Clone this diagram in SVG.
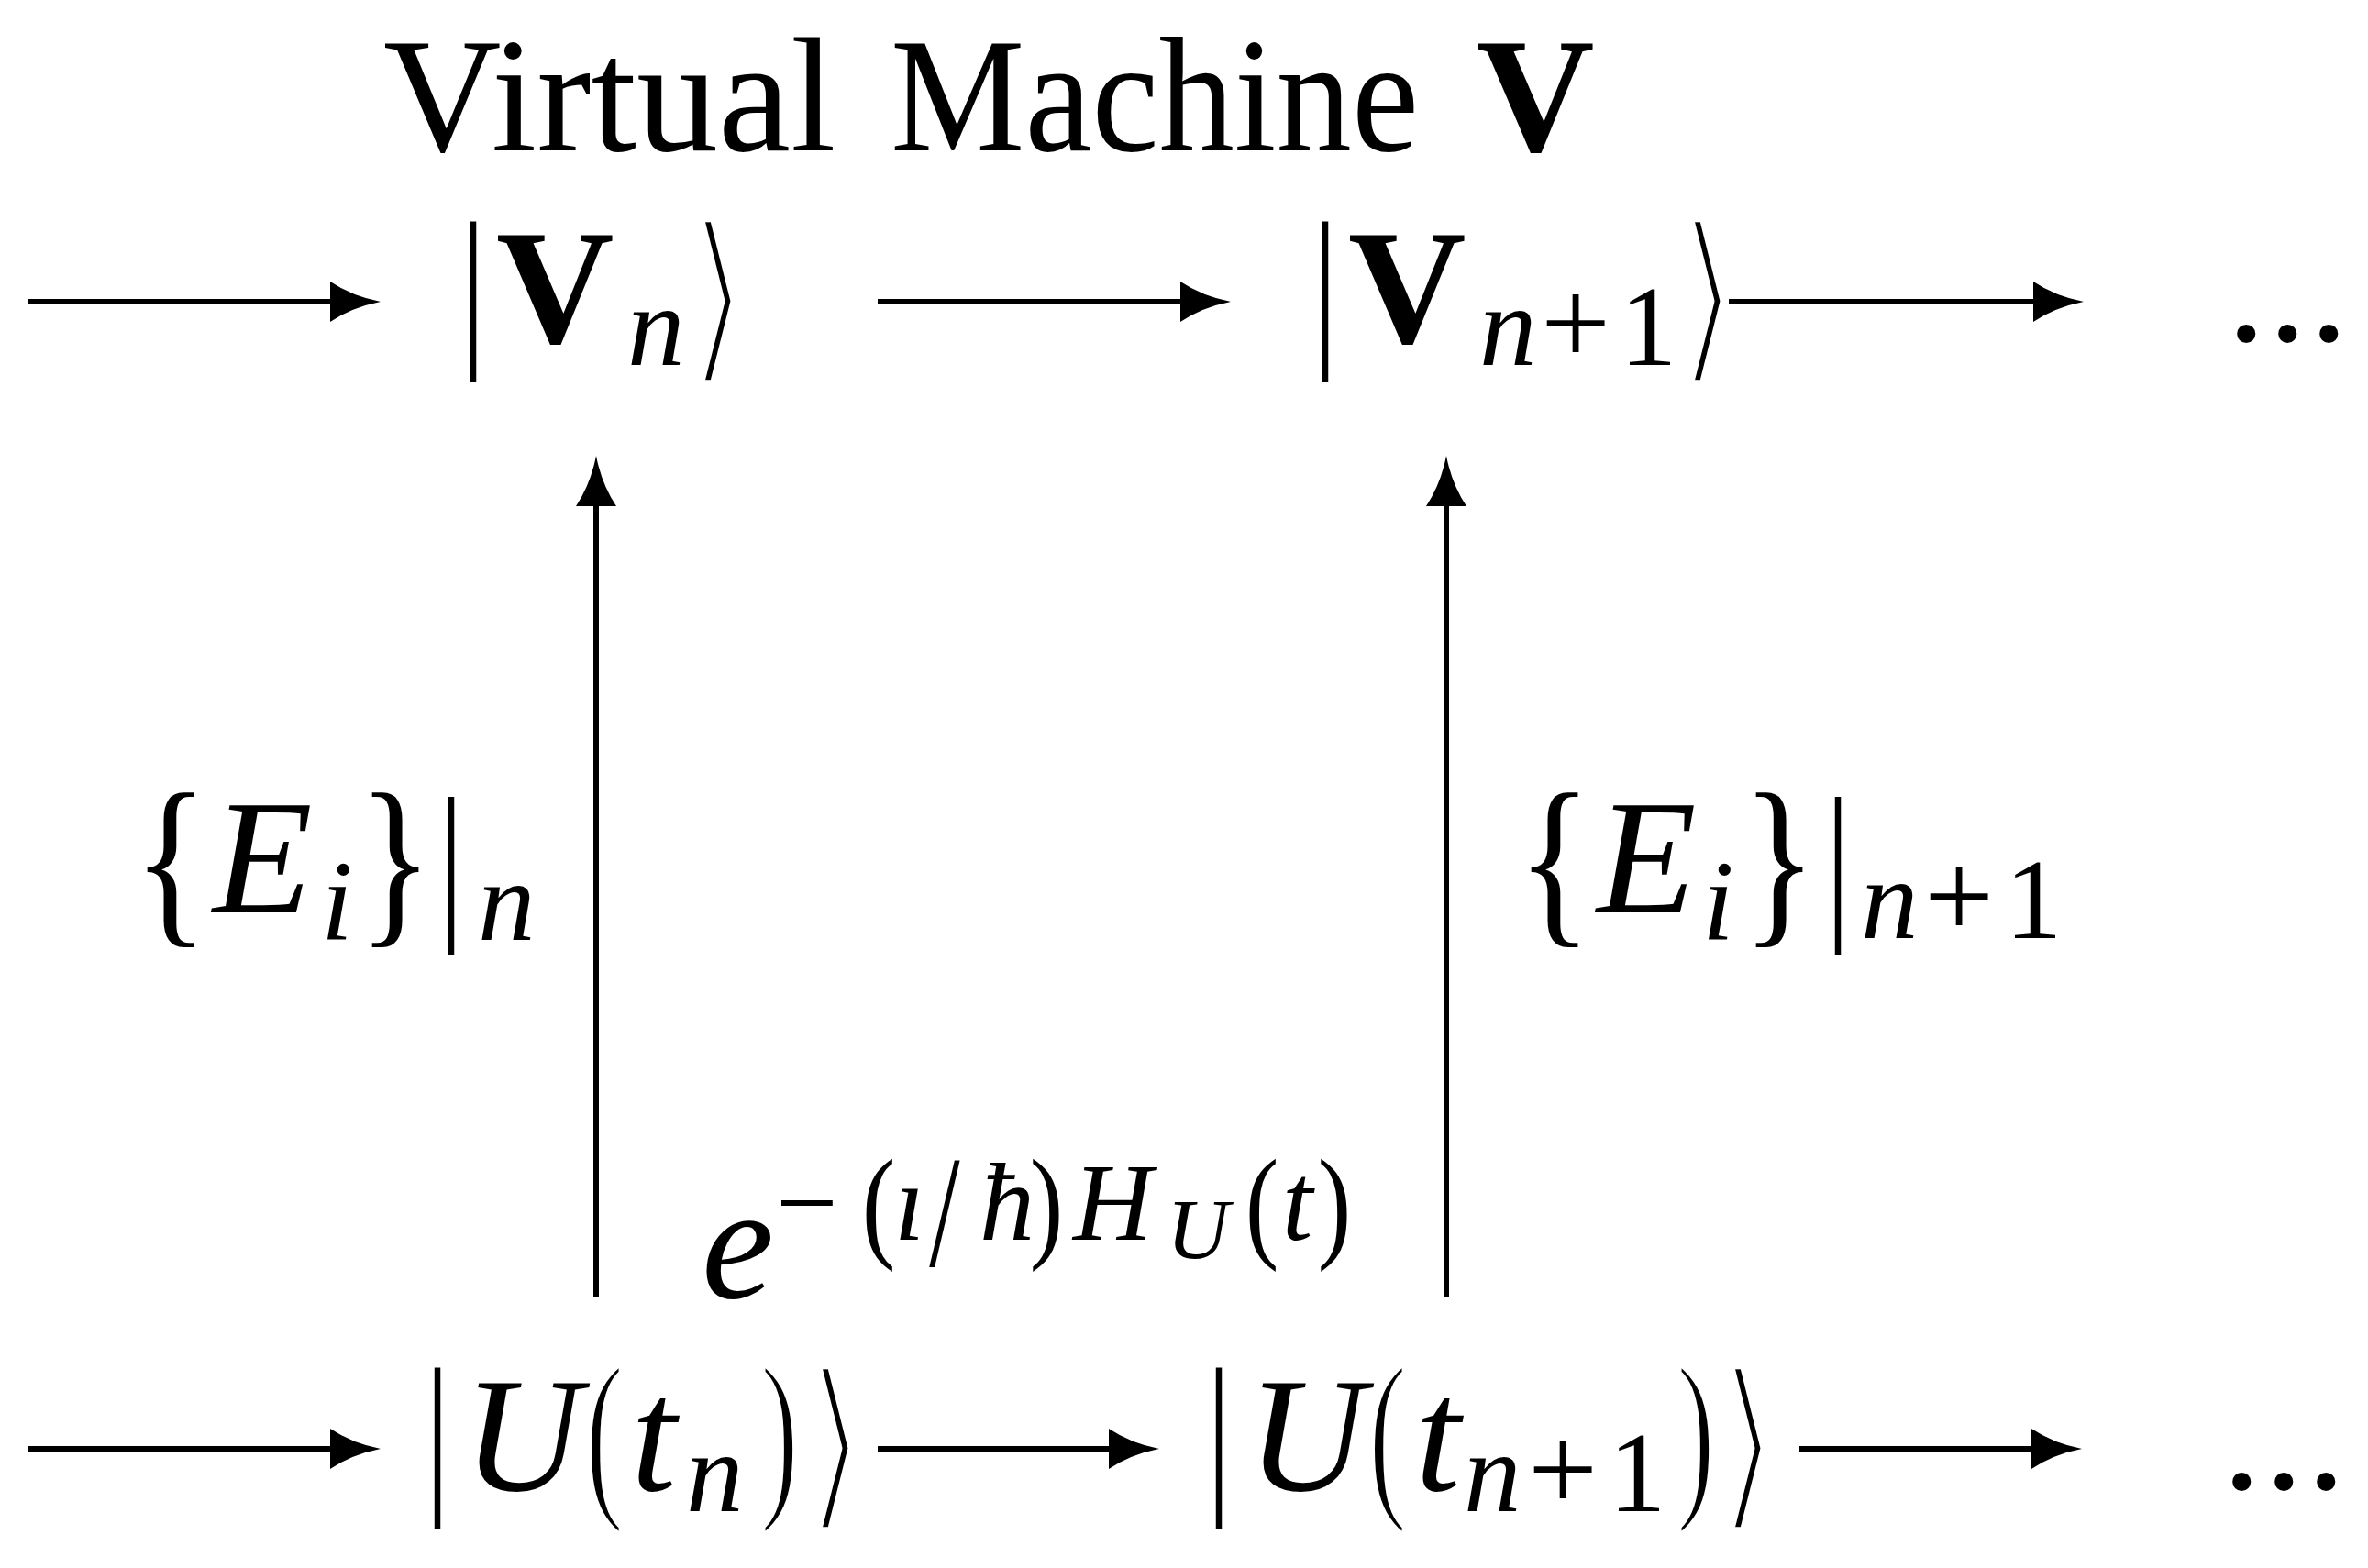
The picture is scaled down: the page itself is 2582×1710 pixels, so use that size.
<svg xmlns="http://www.w3.org/2000/svg" width="2582" height="1710" viewBox="0 0 2582 1710">
<defs>
<style>
.t{font-family:"Liberation Serif","DejaVu Serif",serif;fill:#000}
.it{font-style:italic}
.bf{font-weight:bold}
.thin{stroke:#fff;stroke-width:2.5;stroke-linejoin:round}
.ang{font-family:"DejaVu Sans",sans-serif;fill:#000;stroke:#fff;stroke-width:5;stroke-linejoin:round}
.c{stroke:#000;stroke-width:6;fill:none}
</style>
<marker id="ah" markerUnits="userSpaceOnUse" markerWidth="60" markerHeight="50" viewBox="0 -25 60 50" refX="25" refY="0" orient="auto">
<path d="M0,-22 Q24,-6 55,0 Q24,6 0,22 Z" fill="#000"/>
</marker>
</defs>
<rect width="2582" height="1710" fill="#fff"/>

<g id="title">
<text class="t" y="164" font-size="178"><tspan x="418">Virtual</tspan> <tspan x="971" textLength="576" lengthAdjust="spacingAndGlyphs">Machine</tspan> <tspan x="1610" class="bf">V</tspan></text>
</g>

<g id="node-Vn">
<text class="t" text-anchor="middle" font-size="130" transform="matrix(1,0,0,1.48,516,375)">|</text>
<text class="t bf" x="541" y="373" font-size="178">V</text>
<text class="t it" x="684" y="398" font-size="125">n</text>
<text class="ang" text-anchor="middle" font-size="110" transform="matrix(1.5,0,0,1.85,783,392)">⟩</text>
</g>

<g id="node-Vn1">
<text class="t" text-anchor="middle" font-size="130" transform="matrix(1,0,0,1.48,1445,375)">|</text>
<text class="t bf" x="1470" y="373" font-size="178">V</text>
<text class="t" y="398" font-size="125"><tspan class="it" x="1613">n</tspan><tspan x="1680" font-size="135">+</tspan><tspan x="1766">1</tspan></text>
<text class="ang" text-anchor="middle" font-size="110" transform="matrix(1.5,0,0,1.85,1862,392)">⟩</text>
</g>

<g id="dots-top">
<text class="t" y="372" font-size="170" x="2428 2473 2518">...</text>
</g>

<g id="label-En">
<text class="t" text-anchor="middle" font-size="170" transform="matrix(1,0,0,1.195,186,1006)">{</text>
<text class="t it" x="232" y="995" font-size="178">E</text>
<text class="t it" x="350" y="1025" font-size="125">i</text>
<text class="t" text-anchor="middle" font-size="170" transform="matrix(1,0,0,1.195,431,1006)">}</text>
<text class="t" text-anchor="middle" font-size="130" transform="matrix(1,0,0,1.45,492,1000)">|</text>
<text class="t it" x="521" y="1025" font-size="125">n</text>
</g>

<g id="label-En1">
<text class="t" text-anchor="middle" font-size="170" transform="matrix(1,0,0,1.195,1695,1006)">{</text>
<text class="t it" x="1741" y="995" font-size="178">E</text>
<text class="t it" x="1856" y="1025" font-size="125">i</text>
<text class="t" text-anchor="middle" font-size="170" transform="matrix(1,0,0,1.195,1940,1006)">}</text>
<text class="t" text-anchor="middle" font-size="130" transform="matrix(1,0,0,1.45,2004,1000)">|</text>
<text class="t" y="1023" font-size="125"><tspan class="it" x="2029">n</tspan><tspan x="2098" font-size="135">+</tspan><tspan x="2186">1</tspan></text>
</g>

<g id="label-exp">
<text class="t it" x="765" y="1415" font-size="178">e</text>
<text class="t" x="846" y="1352" font-size="120">−</text>
<text class="t" text-anchor="middle" font-size="110" transform="matrix(1,0,0,1.24,958,1358)">(</text>
<text class="t it" x="975" y="1352" font-size="120">ı</text>
<text class="t" text-anchor="middle" font-size="120" transform="matrix(1,0,0,1.44,1030,1380)">/</text>
<text class="t it" x="1068" y="1352" font-size="120">ħ</text>
<text class="t" text-anchor="middle" font-size="110" transform="matrix(1,0,0,1.24,1141,1358)">)</text>
<text class="t it" x="1170" y="1352" font-size="120">H</text>
<text class="t it" x="1272" y="1372" font-size="94">U</text>
<text class="t" text-anchor="middle" font-size="110" transform="matrix(1,0,0,1.24,1376,1358)">(</text>
<text class="t it" x="1398" y="1352" font-size="120">t</text>
<text class="t" text-anchor="middle" font-size="110" transform="matrix(1,0,0,1.24,1455,1358)">)</text>
</g>

<g id="node-Utn">
<text class="t" text-anchor="middle" font-size="130" transform="matrix(1,0,0,1.48,477,1625)">|</text>
<text class="t it" x="505" y="1625" font-size="178">U</text>
<text class="t thin" text-anchor="middle" font-size="125" transform="matrix(1,0,0,1.62,659,1630)">(</text>
<text class="t it" x="688" y="1625" font-size="178">t</text>
<text class="t it" x="748" y="1648" font-size="125">n</text>
<text class="t thin" text-anchor="middle" font-size="125" transform="matrix(1,0,0,1.62,850,1630)">)</text>
<text class="ang" text-anchor="middle" font-size="110" transform="matrix(1.5,0,0,1.85,911,1643)">⟩</text>
</g>

<g id="node-Utn1">
<text class="t" text-anchor="middle" font-size="130" transform="matrix(1,0,0,1.48,1329,1625)">|</text>
<text class="t it" x="1360" y="1625" font-size="178">U</text>
<text class="t thin" text-anchor="middle" font-size="125" transform="matrix(1,0,0,1.62,1513,1630)">(</text>
<text class="t it" x="1543" y="1625" font-size="178">t</text>
<text class="t" y="1648" font-size="125"><tspan class="it" x="1596">n</tspan><tspan x="1666" font-size="135">+</tspan><tspan x="1754">1</tspan></text>
<text class="t thin" text-anchor="middle" font-size="125" transform="matrix(1,0,0,1.62,1849,1630)">)</text>
<text class="ang" text-anchor="middle" font-size="110" transform="matrix(1.5,0,0,1.85,1906,1643)">⟩</text>
</g>

<g id="dots-bottom">
<text class="t" y="1624" font-size="170" x="2423 2469 2515">...</text>
</g>

<g id="connectors">
<line class="c" x1="30" y1="329" x2="385" y2="329" marker-end="url(#ah)"/>
<line class="c" x1="957" y1="329" x2="1312" y2="329" marker-end="url(#ah)"/>
<line class="c" x1="1885" y1="329" x2="2242" y2="329" marker-end="url(#ah)"/>
<line class="c" x1="30" y1="1580" x2="385" y2="1580" marker-end="url(#ah)"/>
<line class="c" x1="957" y1="1580" x2="1234" y2="1580" marker-end="url(#ah)"/>
<line class="c" x1="1962" y1="1580" x2="2240" y2="1580" marker-end="url(#ah)"/>
<line class="c" x1="650" y1="1414" x2="650" y2="527" marker-end="url(#ah)"/>
<line class="c" x1="1577" y1="1414" x2="1577" y2="527" marker-end="url(#ah)"/>
</g>
</svg>
